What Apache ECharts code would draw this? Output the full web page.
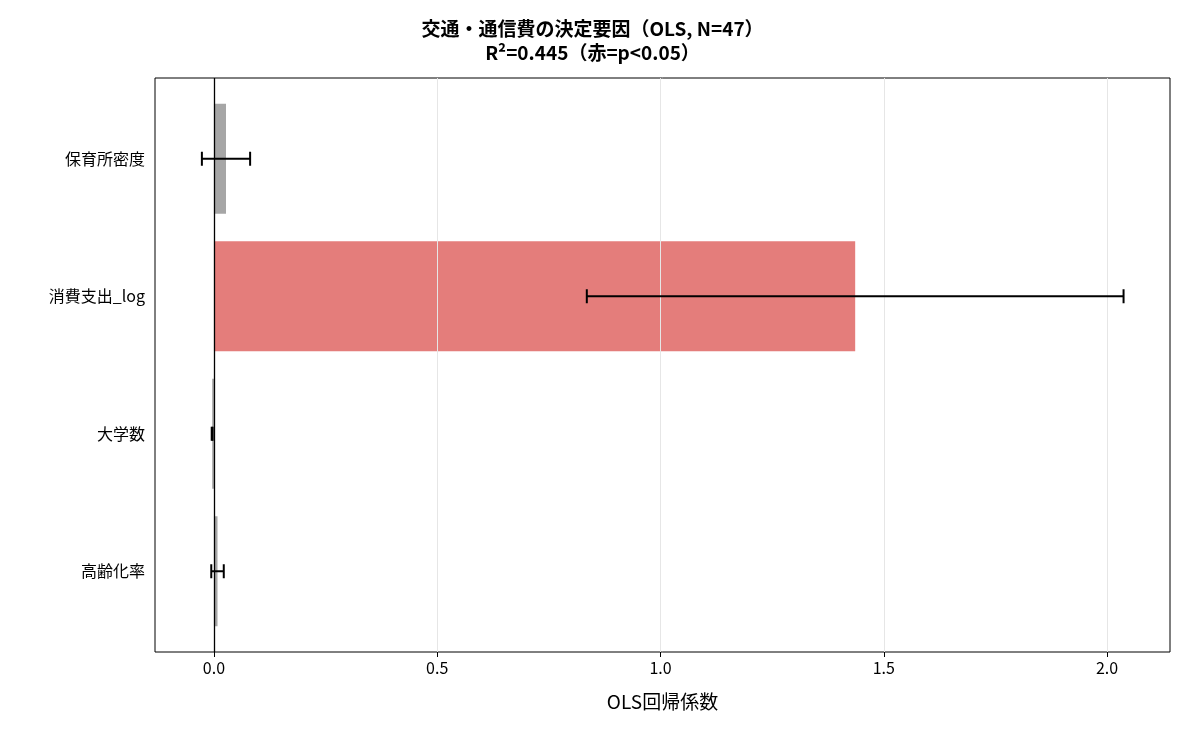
<!DOCTYPE html><html><head><meta charset="utf-8"><script src="https://cdn.jsdelivr.net/npm/echarts@6/dist/echarts.min.js"></script></head><body style="margin:0"><div id="c" style="width:1185px;height:735px"></div><script>
const categories=['高齢化率','大学数','消費支出_log','保育所密度'];
const coefs=[0.008,-0.004,1.436,0.027];
const errs=[0.014,0.001,0.601,0.054];
const significant=[false,false,true,false];
const xTicks=[0,0.5,1,1.5,2];
const F='"Noto Sans CJK JP","Noto Sans",sans-serif';
const ch=echarts.init(document.getElementById('c'));
ch.setOption({animation:false,
title:{text:'交通・通信費の決定要因（OLS, N=47）\nR²=0.445（赤=p<0.05）',left:'center',top:12,textStyle:{fontFamily:F,fontSize:19,fontWeight:'bold',color:'#000',lineHeight:24}},
grid:[{left:155,right:15,top:78,bottom:83,show:true,borderColor:'#000',borderWidth:1},{left:155,right:15,top:90,bottom:95}],
xAxis:[{gridIndex:0,type:'value',min:-0.132,max:2.141,name:'OLS回帰係数',nameLocation:'middle',nameGap:40,nameTextStyle:{fontFamily:F,fontSize:19,color:'#000'},
axisLabel:{fontFamily:F,fontSize:16,color:'#000',formatter:v=>v.toFixed(1),customValues:xTicks},
axisTick:{show:true,length:5,lineStyle:{color:'#000'},customValues:xTicks},axisLine:{show:false},
splitLine:{show:false}},
{gridIndex:1,type:'value',min:-0.132,max:2.141,interval:0.5,axisLabel:{show:false},axisTick:{show:false},axisLine:{show:false},splitLine:{show:false}}],
yAxis:[{gridIndex:0,type:'value',show:false},{gridIndex:1,type:'category',data:categories,axisLabel:{fontFamily:F,fontSize:16,color:'#000',margin:10},axisTick:{alignWithLabel:true,length:5,lineStyle:{color:'#000'}},axisLine:{show:false}}],
series:[{type:'bar',xAxisIndex:1,yAxisIndex:1,barWidth:'80%',data:coefs.map((v,i)=>({value:v,itemStyle:{color:significant[i]?'#e47d7b':'#a6a6a6'}})),z:3},
{type:'line',xAxisIndex:0,yAxisIndex:0,data:[],markLine:{symbol:'none',silent:true,label:{show:false},lineStyle:{color:'#e6e6e6',width:1,type:'solid'},data:[0.5,1,1.5,2].map(v=>({xAxis:v}))},z:1},
{type:'line',xAxisIndex:0,yAxisIndex:0,data:[],markLine:{symbol:'none',silent:true,label:{show:false},lineStyle:{color:'#000',width:1.3,type:'solid'},data:[{xAxis:0}]},z:5},
{type:'custom',xAxisIndex:1,yAxisIndex:1,renderItem:(p,api)=>{const c=api.value(0),e=api.value(1),y=api.value(2);
const a=api.coord([c-e,y]),b=api.coord([c+e,y]);const h=7;const s={stroke:'#000',lineWidth:2};
return {type:'group',children:[{type:'line',shape:{x1:a[0],y1:a[1],x2:b[0],y2:b[1]},style:s},{type:'line',shape:{x1:a[0],y1:a[1]-h,x2:a[0],y2:a[1]+h},style:s},{type:'line',shape:{x1:b[0],y1:b[1]-h,x2:b[0],y2:b[1]+h},style:s}]};},
data:coefs.map((v,i)=>[v,errs[i],i]),z:10}]});
</script></body></html>
